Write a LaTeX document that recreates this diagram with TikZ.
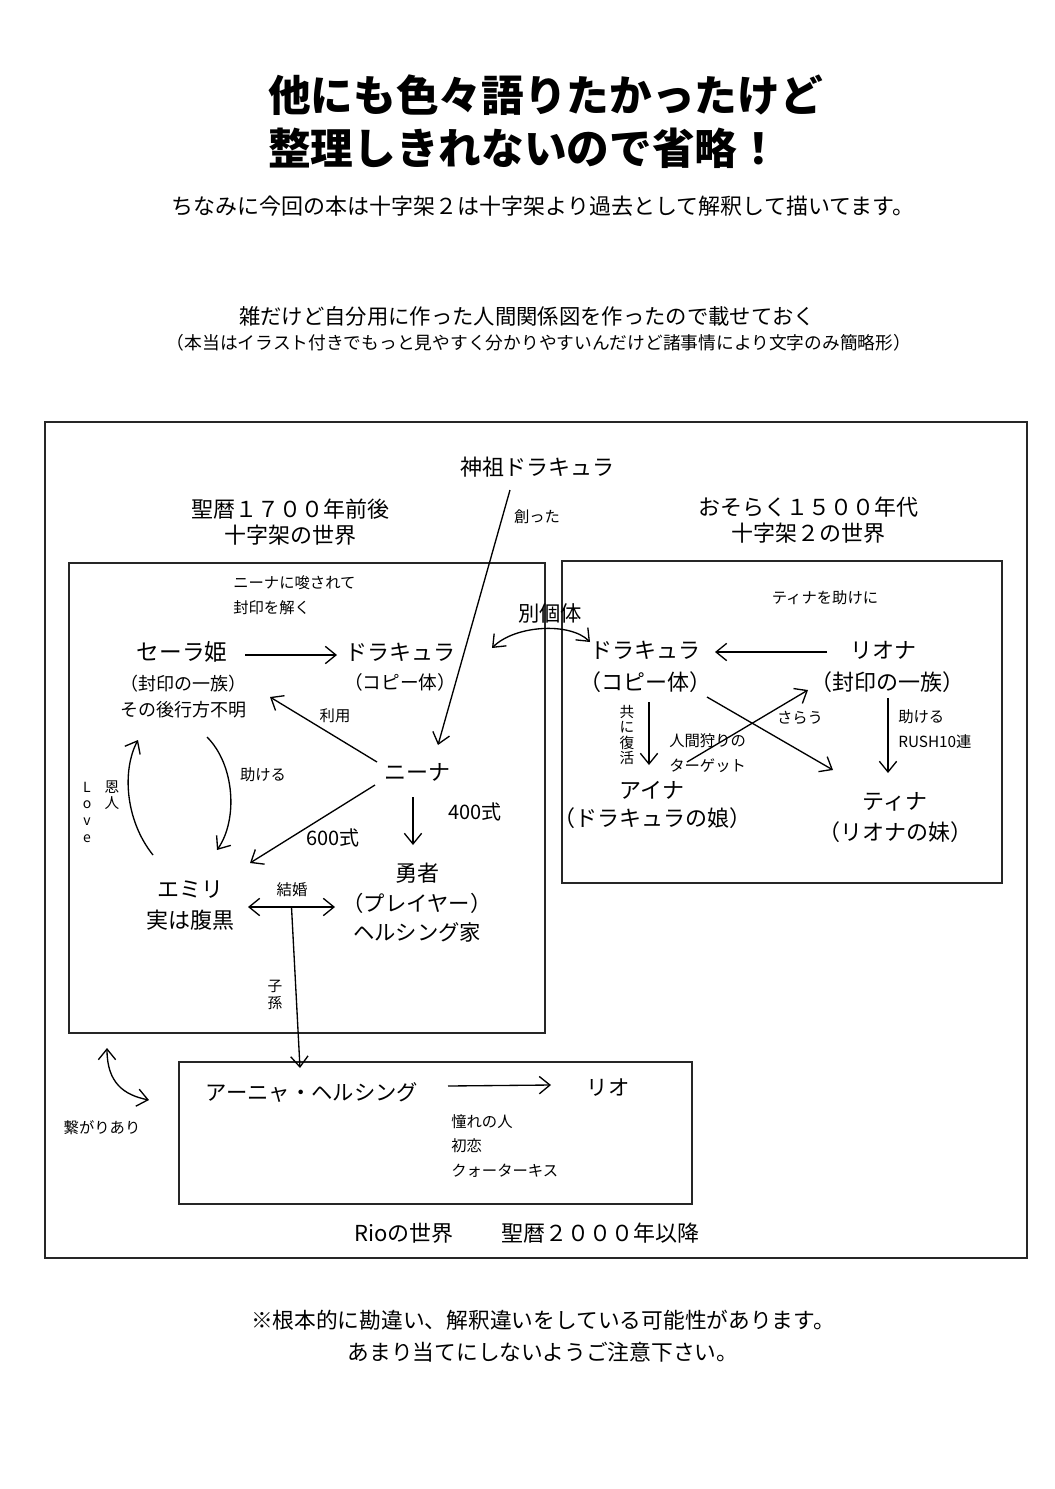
\documentclass[tikz,border=0pt]{standalone}
\usepackage{fontspec}
\setmainfont{Noto Sans CJK JP}
\usetikzlibrary{positioning, arrows.meta, calc}

\begin{document}
\begin{tikzpicture}[
  x=0.75pt, y=-0.75pt,
  >={Straight Barb[length=8pt, width=13pt]},
  ttl/.style={font=\fontsize{32}{40}\selectfont\bfseries, anchor=west, inner sep=0pt},
  para/.style={font=\fontsize{16.5}{24}\selectfont, inner sep=0pt, align=center},
  head/.style={font=\fontsize{16.5}{19.5}\selectfont, inner sep=0pt, align=center},
  who/.style={font=\fontsize{16.5}{22}\selectfont, inner sep=0pt, align=center},
  whosub/.style={font=\fontsize{13.5}{19.5}\selectfont, inner sep=0pt, align=center},
  tag/.style={font=\fontsize{11.5}{18.5}\selectfont, inner sep=0pt, align=left},
  vtag/.style={font=\fontsize{11}{11.5}\selectfont, inner sep=0pt, align=center},
  num/.style={font=\fontsize{15}{18}\selectfont, inner sep=0pt},
  frame/.style={draw=black!85, line width=0.9pt},
  arr/.style={->, line width=1pt},
  dblarr/.style={<->, line width=1pt},
]
\useasboundingbox (0,0) rectangle (1054,1489);

% ---- headline ---------------------------------------------------------
\node[ttl] (title1) at (268,95) {他にも色々語りたかったけど};
\node[ttl] (title2) at (268,148) {整理しきれないので省略！};
\node[para] (intro) at (543,206)
  {ちなみに今回の本は十字架２は十字架より過去として解釈して描いてます。};
\node[para, font=\fontsize{16}{20}\selectfont] (chart) at (527,316)
  {雑だけど自分用に作った人間関係図を作ったので載せておく};
\node[para, font=\fontsize{13.3}{16}\selectfont] (aside) at (539,343)
  {（本当はイラスト付きでもっと見やすく分かりやすいんだけど諸事情により文字のみ簡略形）};

% ---- frames -----------------------------------------------------------
\draw[frame] (45,422) rectangle (1027,1258);
\draw[frame] (69,563) rectangle (545,1033);
\draw[frame] (562,561) rectangle (1002,883);
\draw[frame] (179,1062) rectangle (692,1204);

\node[who] (shinso) at (537,467) {神祖ドラキュラ};
\node[tag] (tsukutta) at (537,517) {創った};
\node[head] (headL) at (290,522) {聖暦１７００年前後\\十字架の世界};
\node[head] (headR) at (808,520) {おそらく１５００年代\\十字架２の世界};

% ---- 十字架 -----------------------------------------------------------
\node[tag, anchor=west] (sodasa) at (233,595) {ニーナに唆されて\\封印を解く};
\node[who, font=\fontsize{17}{22}\selectfont] (sera) at (182,652) {セーラ姫};
\node[whosub] (seraSub) at (183,697) {（封印の一族）\\その後行方不明};
\node[who] (dracL) at (400,652) {ドラキュラ};
\node[whosub, font=\fontsize{14}{18}\selectfont] (dracLSub) at (400,682) {（コピー体）};
\node[who] (nina) at (417,772) {ニーナ};
\node[who] (emiri) at (190,890) {エミリ};
\node[who] (emiriSub) at (190,920) {実は腹黒};
\node[who] (yusha) at (417,873) {勇者};
\node[who, font=\fontsize{16}{22}\selectfont] (yushaSub) at (417,918) {（プレイヤー）\\ヘルシング家};

\draw[arr] ([shift={(-27,23)}]shinso.center) -- ([shift={(21,-27)}]nina.center);
\draw[arr] ([shift={(63,3)}]sera.center) -- ([shift={(-63,3)}]dracL.center);
\draw[arr] ([shift={(-40,-10)}]nina.center) -- ([shift={(88,45)}]sera.center);
\node[tag] (riyou) at (335,716) {利用};
\draw[arr] ([shift={(-42,13)}]nina.center) -- ([shift={(60,-27)}]emiri.center);
\node[num] (shiki600) at (333,838) {600式};
\draw[arr] ([shift={(-4,25)}]nina.center) -- ([shift={(-4,-28)}]yusha.center);
\node[num] (shiki400) at (475,812) {400式};
\draw[arr] ([shift={(25,85)}]sera.center) .. controls +(28,28) and +(21,-30) ..
  ([shift={(27,-40)}]emiri.center);
\node[tag] (tasukeru) at (263,775) {助ける};
\draw[arr] ([shift={(-37,-35)}]emiri.center) .. controls +(-28,-35) and +(-16,30) ..
  ([shift={(-44,88)}]sera.center);
\node[vtag] (onjin) at (112,795) {恩\\人};
\node[vtag, font=\fontsize{10.5}{12.5}\selectfont] (love) at (87,812) {L\\o\\v\\e};
\draw[dblarr] ([shift={(58,17)}]emiri.center) -- ([shift={(-82,34)}]yusha.center)
  coordinate[pos=0.5] (wed);
\node[tag] (kekkon) at (292,890) {結婚};

% ---- 十字架２ ----------------------------------------------------------
\node[tag] (tinaHelp) at (825,598) {ティナを助けに};
\node[who] (dracR) at (645,650) {ドラキュラ};
\node[who] (dracRSub) at (645,682) {（コピー体）};
\node[who] (riona) at (883,650) {リオナ};
\node[who] (rionaSub) at (887,682) {（封印の一族）};
\node[who] (aina) at (652,790) {アイナ};
\node[who] (ainaSub) at (652,818) {（ドラキュラの娘）};
\node[who] (tina) at (895,802) {ティナ};
\node[who] (tinaSub) at (895,832) {（リオナの妹）};

\draw[dblarr] ([shift={(92,-4)}]dracL.center) .. controls +(23,-23) and +(-20,-20) ..
  ([shift={(-55,-8)}]dracR.center);
\node[who, font=\fontsize{16}{20}\selectfont] (bekko) at (550,613) {別個体};
\draw[arr] ([shift={(-56,2)}]riona.center) -- ([shift={(70,2)}]dracR.center);
\draw[arr] ([shift={(4,52)}]dracR.center) -- ([shift={(-3,-25)}]aina.center);
\node[vtag] (fukkatsu) at (627,735) {共\\に\\復\\活};
\draw[arr] ([shift={(62,47)}]dracR.center) -- ([shift={(-62,-32)}]tina.center);
\draw[arr] ([shift={(35,-28)}]aina.center) -- ([shift={(-75,40)}]riona.center);
\node[tag] (sarau) at (800,718) {さらう};
\node[tag, anchor=west] (target) at (669,753) {人間狩りの\\ターゲット};
\draw[arr] ([shift={(5,48)}]riona.center) -- ([shift={(-7,-29)}]tina.center);
\node[tag, anchor=west] (rush) at (898,729) {助ける\\RUSH10連};

% ---- Rio ---------------------------------------------------------------
\node[who, font=\fontsize{16}{20}\selectfont] (anya) at (312,1092) {アーニャ・ヘルシング};
\node[who, font=\fontsize{16}{20}\selectfont] (rio) at (608,1088) {リオ};
\draw[arr] ([shift={(136,-6)}]anya.center) -- ([shift={(-57,-3)}]rio.center);
\node[tag, anchor=north west, font=\fontsize{11.5}{18.5}\selectfont] (rioNotes) at (451,1114)
  {憧れの人\\初恋\\クォーターキス};
\draw[arr] (wed) -- ([shift={(-12,-24)}]anya.center);
\node[vtag, font=\fontsize{11}{12.5}\selectfont] (shison) at (275,995) {子\\孫};
\node[tag] (tsunagari) at (102,1128) {繋がりあり};
\draw[dblarr] ([shift={(5,-80)}]tsunagari.center) .. controls +(0,35) and +(-25,-5) ..
  ([shift={(47,-28)}]tsunagari.center);
\node[head] (rioWorld) at (404,1233) {Rioの世界};
\node[head] (era2000) at (600,1233) {聖暦２０００年以降};

% ---- footnote ----------------------------------------------------------
\node[para, font=\fontsize{16.3}{24}\selectfont] (caveat) at (543,1336)
  {※根本的に勘違い、解釈違いをしている可能性があります。\\
   あまり当てにしないようご注意下さい。};

\end{tikzpicture}
\end{document}
